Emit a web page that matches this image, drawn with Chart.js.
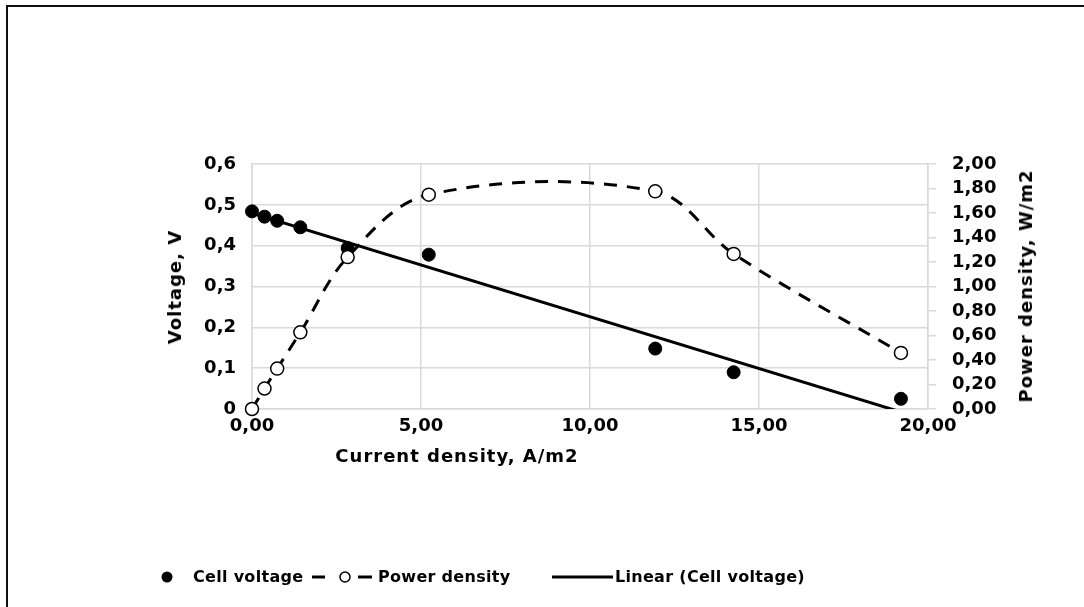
<!DOCTYPE html>
<html>
<head>
<meta charset="utf-8">
<script src="https://cdn.jsdelivr.net/npm/chart.js@4.4.1/dist/chart.umd.min.js"></script>
<style>
  html, body { margin: 0; padding: 0; background: #fff; overflow: hidden; }
  #wrap { position: relative; width: 1084px; height: 607px; font-family: "DejaVu Sans", sans-serif; font-weight: bold; color: #000; }
  #frame { position: absolute; left: 6px; top: 5px; width: 1200px; height: 800px; border: 2px solid #111; }
  #chart { position: absolute; left: 0; top: 0; }
  .title { position: absolute; font-size: 18px; letter-spacing: 1px; white-space: nowrap; line-height: 22px; }
  .legend { position: absolute; top: 565px; left: 0; width: 1084px; height: 24px; font-size: 16px; letter-spacing: 0.3px; }
  .legend span { position: absolute; top: 0; line-height: 24px; white-space: nowrap; }
  .legend svg { position: absolute; top: 0; }
</style>
</head>
<body>
<div id="wrap">
  <div id="frame"></div>
  <canvas id="chart" width="1084" height="607"></canvas>
  <div class="title" id="xTitle" style="left:457px; top:445px; transform:translateX(-50%)">Current density, A/m2</div>
  <div class="title" id="yTitle" style="left:175px; top:287px; transform:translate(-50%,-50%) rotate(-90deg)">Voltage, V</div>
  <div class="title" id="y2Title" style="left:1026px; top:286px; transform:translate(-50%,-50%) rotate(-90deg)">Power density, W/m2</div>
  <div class="legend">
    <svg style="left:158px" width="20" height="24"><circle cx="9" cy="12" r="5.5" fill="#000"/></svg>
    <span style="left:193px">Cell voltage</span>
    <svg style="left:310px" width="66" height="24">
      <line x1="2" y1="12" x2="15" y2="12" stroke="#000" stroke-width="3"/>
      <circle cx="35" cy="12" r="5" fill="#fff" stroke="#000" stroke-width="1.5"/>
      <line x1="48" y1="12" x2="62" y2="12" stroke="#000" stroke-width="3"/>
    </svg>
    <span style="left:378px">Power density</span>
    <svg style="left:552px" width="62" height="24"><line x1="0" y1="12" x2="61" y2="12" stroke="#000" stroke-width="3"/></svg>
    <span style="left:615px">Linear (Cell voltage)</span>
  </div>
</div>
<script>
// data
const currentDensity = [0, 0.37, 0.745, 1.43, 2.83, 5.23, 11.93, 14.25, 19.2];
const cellVoltage    = [0.484, 0.471, 0.461, 0.445, 0.394, 0.378, 0.148, 0.09, 0.025];
const powerDensity   = [0, 0.167, 0.33, 0.626, 1.24, 1.75, 1.777, 1.266, 0.458];

const voltageTicks = [0, 0.1, 0.2, 0.3, 0.4, 0.5, 0.6];
const powerTicks = [0, 0.2, 0.4, 0.6, 0.8, 1.0, 1.2, 1.4, 1.6, 1.8, 2.0];
const currentTicks = [0, 5, 10, 15, 20];

// least squares fit for the trendline
function linearFit(xs, ys) {
  const n = xs.length;
  const mx = xs.reduce((a, b) => a + b, 0) / n;
  const my = ys.reduce((a, b) => a + b, 0) / n;
  let sxy = 0, sxx = 0;
  for (let i = 0; i < n; i++) {
    sxy += (xs[i] - mx) * (ys[i] - my);
    sxx += (xs[i] - mx) * (xs[i] - mx);
  }
  const slope = sxy / sxx;
  return { slope, intercept: my - slope * mx };
}

const fit = linearFit(currentDensity, cellVoltage);
const xEnds = [Math.min(...currentDensity), Math.max(...currentDensity)];

const comma = (v, d) => v.toFixed(d).replace(".", ",");
const font = { family: "'DejaVu Sans', sans-serif", size: 18, weight: "bold" };
const gridGrey = "#d9d9d9";

const ctx = document.getElementById("chart").getContext("2d");

new Chart(ctx, {
  type: "scatter",
  data: {
    datasets: [
      {
        label: "Linear (Cell voltage)",
        data: xEnds.map(x => ({ x, y: fit.intercept + fit.slope * x })),
        yAxisID: "y",
        showLine: true,
        borderColor: "#000",
        borderWidth: 3,
        pointRadius: 0,
        order: 0
      },
      {
        label: "Power density",
        data: currentDensity.map((x, i) => ({ x, y: powerDensity[i] })),
        yAxisID: "y2",
        showLine: true,
        clip: false,
        tension: 0.35,
        borderColor: "#000",
        borderWidth: 3,
        borderDash: [13, 10],
        pointRadius: 6.5,
        pointBackgroundColor: "#fff",
        pointBorderColor: "#000",
        pointBorderWidth: 1.5,
        order: 1
      },
      {
        label: "Cell voltage",
        data: currentDensity.map((x, i) => ({ x, y: cellVoltage[i] })),
        yAxisID: "y",
        clip: false,
        pointRadius: 6.5,
        pointBackgroundColor: "#000",
        pointBorderColor: "#000",
        order: 2
      }
    ]
  },
  options: {
    responsive: false,
    animation: false,
    layout: { padding: { left: 0, right: 0, top: 164, bottom: 128 } },
    plugins: { legend: { display: false }, tooltip: { enabled: false } },
    scales: {
      x: {
        type: "linear",
        min: 0, max: 20,
        afterFit: s => { s.height = 70; },
        afterBuildTicks: s => { s.ticks = currentTicks.map(v => ({ value: v })); },
        grid: { color: gridGrey, lineWidth: 1.5, drawTicks: false },
        border: { color: gridGrey, width: 1.5 },
        ticks: { color: "#000", font, padding: 7, autoSkip: false, maxRotation: 0, callback: v => comma(v, 2) }
      },
      y: {
        position: "left",
        min: 0, max: 0.6,
        afterFit: s => { s.width = 252; },
        afterBuildTicks: s => { s.ticks = voltageTicks.map(v => ({ value: v })); },
        grid: { color: gridGrey, lineWidth: 1.5, drawTicks: false },
        border: { color: gridGrey, width: 1.5 },
        ticks: { color: "#000", font, padding: 16, autoSkip: false, callback: v => v === 0 ? "0" : comma(v, 1) }
      },
      y2: {
        position: "right",
        min: 0, max: 2,
        afterFit: s => { s.width = 156; },
        afterBuildTicks: s => { s.ticks = powerTicks.map(v => ({ value: v })); },
        grid: { color: gridGrey, lineWidth: 1.5, drawOnChartArea: false, tickLength: 8 },
        border: { color: gridGrey, width: 1.5 },
        ticks: { color: "#000", font, padding: 16, autoSkip: false, callback: v => comma(v, 2) }
      }
    }
  }
});
</script>
</body>
</html>
